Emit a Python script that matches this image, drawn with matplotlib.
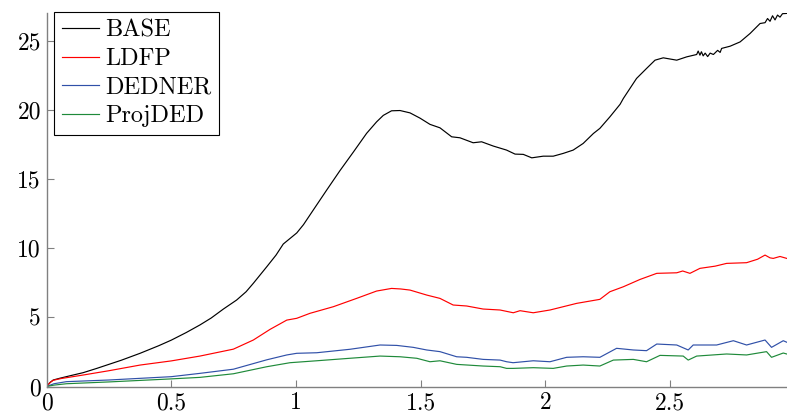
import matplotlib
matplotlib.use("Agg")
import matplotlib.pyplot as plt
from matplotlib.ticker import FuncFormatter

# values
base_x = [0, 0.015, 0.027, 0.054, 0.1, 0.147, 0.2, 0.25, 0.3, 0.375, 0.45, 0.5, 0.56,
          0.615, 0.66, 0.709, 0.762, 0.8, 0.829, 0.883, 0.92, 0.949, 1.003, 1.03, 1.069,
          1.123, 1.176, 1.23, 1.283, 1.323, 1.35, 1.383, 1.417, 1.457, 1.497, 1.537,
          1.577, 1.624, 1.657, 1.71, 1.744, 1.791, 1.844, 1.878, 1.911, 1.945, 1.991,
          2.031, 2.071, 2.111, 2.151, 2.192, 2.218, 2.258, 2.299, 2.312, 2.365, 2.405,
          2.439, 2.472, 2.526, 2.566, 2.606, 2.612, 2.619, 2.625, 2.632, 2.64, 2.65,
          2.66, 2.673, 2.69, 2.70, 2.706, 2.74, 2.78, 2.82, 2.86, 2.88, 2.89, 2.9, 2.91,
          2.92, 2.93, 2.94, 2.95, 2.967]
base_y = [0, 0.3, 0.47, 0.6, 0.8, 1.0, 1.3, 1.6, 1.9, 2.4, 2.95, 3.35, 3.9,
          4.45, 4.95, 5.6, 6.25, 6.85, 7.46, 8.66, 9.5, 10.3, 11.1, 11.7, 12.75,
          14.2, 15.6, 16.95, 18.3, 19.13, 19.6, 19.93, 19.95, 19.78, 19.4, 18.95,
          18.7, 18.05, 17.98, 17.62, 17.69, 17.38, 17.09, 16.8, 16.78, 16.53, 16.65,
          16.65, 16.85, 17.09, 17.57, 18.29, 18.66, 19.49, 20.4, 20.82, 22.27, 22.99,
          23.59, 23.76, 23.59, 23.83, 24.0, 24.25, 23.95, 24.2, 23.9, 24.1, 23.85,
          24.1, 24.0, 24.3, 24.15, 24.44, 24.6, 24.91, 25.52, 26.24, 26.3, 26.6, 26.4,
          26.8, 26.5, 26.85, 26.7, 26.95, 26.97]

ldfp_x = [0, 0.015, 0.027, 0.06, 0.147, 0.25, 0.375, 0.5, 0.615, 0.749, 0.829, 0.896,
          0.963, 1.003, 1.056, 1.15, 1.243, 1.323, 1.383, 1.42, 1.457, 1.524, 1.577,
          1.63, 1.684, 1.75, 1.818, 1.871, 1.898, 1.951, 2.018, 2.125, 2.218, 2.258,
          2.312, 2.379, 2.446, 2.526, 2.55, 2.579, 2.619, 2.68, 2.726, 2.806, 2.85,
          2.88, 2.9, 2.913, 2.94, 2.967]
ldfp_y = [0, 0.3, 0.45, 0.58, 0.83, 1.14, 1.55, 1.85, 2.2, 2.7, 3.36, 4.13,
          4.8, 4.93, 5.29, 5.77, 6.37, 6.9, 7.09, 7.05, 6.97, 6.61, 6.37,
          5.89, 5.82, 5.6, 5.53, 5.33, 5.48, 5.33, 5.53, 6.01, 6.3, 6.85,
          7.21, 7.74, 8.18, 8.22, 8.35, 8.18, 8.54, 8.7, 8.9, 8.95, 9.2,
          9.5, 9.3, 9.26, 9.4, 9.26]

dedner_x = [0, 0.03, 0.08, 0.25, 0.5, 0.615, 0.749, 0.883, 0.963, 1.003, 1.083, 1.216,
            1.337, 1.404, 1.47, 1.524, 1.577, 1.644, 1.684, 1.75, 1.818, 1.844, 1.87,
            1.951, 2.018, 2.085, 2.151, 2.218, 2.285, 2.352, 2.405, 2.446, 2.526, 2.572,
            2.592, 2.686, 2.753, 2.806, 2.88, 2.906, 2.953, 2.967]
dedner_y = [0, 0.2, 0.35, 0.47, 0.71, 0.95, 1.25, 1.93, 2.28, 2.4, 2.44, 2.69,
            3.0, 2.97, 2.83, 2.64, 2.52, 2.15, 2.11, 1.96, 1.91, 1.79, 1.72,
            1.86, 1.79, 2.11, 2.15, 2.11, 2.76, 2.64, 2.59, 3.07, 3.0, 2.64,
            3.0, 3.0, 3.31, 3.0, 3.36, 2.83, 3.31, 3.2]

projded_x = [0, 0.03, 0.08, 0.25, 0.5, 0.615, 0.749, 0.883, 0.976, 1.083, 1.216, 1.337,
             1.417, 1.484, 1.537, 1.577, 1.644, 1.75, 1.818, 1.844, 1.871, 1.951, 2.031,
             2.085, 2.151, 2.218, 2.272, 2.352, 2.405, 2.459, 2.552, 2.572, 2.606, 2.726,
             2.806, 2.886, 2.906, 2.953, 2.967]
projded_y = [0, 0.1, 0.2, 0.33, 0.55, 0.66, 0.92, 1.43, 1.72, 1.86, 2.04, 2.2,
             2.15, 2.04, 1.79, 1.86, 1.6, 1.48, 1.43, 1.31, 1.31, 1.36, 1.31,
             1.48, 1.55, 1.48, 1.91, 1.96, 1.79, 2.25, 2.2, 1.91, 2.2, 2.35,
             2.28, 2.52, 2.11, 2.42, 2.35]

labels = ["BASE", "LDFP", "DEDNER", "ProjDED"]
colors = ["black", "#ff0000", "#3050a8", "#1f8a3a"]

plt.rcParams["font.family"] = "cmr10"
plt.rcParams["mathtext.fontset"] = "cm"
plt.rcParams["axes.formatter.use_mathtext"] = True

fig = plt.figure(figsize=(7.87, 4.19), dpi=100)
ax = fig.add_axes([46.5 / 787, 32.5 / 419, 740.5 / 787, 373.5 / 419])

series = [(base_x, base_y), (ldfp_x, ldfp_y), (dedner_x, dedner_y), (projded_x, projded_y)]
for (xs, ys), lab, col in zip(series, labels, colors):
    ax.plot(xs, ys, color=col, lw=0.85, label=lab)

ax.set_xlim(0, 2.968)
ax.set_ylim(0, 27)
ax.set_xticks([0, 0.5, 1, 1.5, 2, 2.5])
ax.set_yticks([0, 5, 10, 15, 20, 25])
ax.xaxis.set_major_formatter(FuncFormatter(lambda v, p: "%g" % v))
ax.yaxis.set_major_formatter(FuncFormatter(lambda v, p: "%g" % v))

for s in ["top", "right"]:
    ax.spines[s].set_visible(False)
for s in ["left", "bottom"]:
    ax.spines[s].set_color("#808080")
    ax.spines[s].set_linewidth(1.0)
ax.tick_params(direction="in", length=5, width=0.8, color="#808080",
               labelsize=17, pad=4)

leg = ax.legend(loc="upper left", bbox_to_anchor=(7.5 / 740.5, 1.003), fontsize=17.5,
                frameon=True, fancybox=False, edgecolor="black", framealpha=1,
                handlelength=1.52, handletextpad=0.25, borderpad=0.32,
                labelspacing=0.26, borderaxespad=0)
leg.get_frame().set_linewidth(0.8)

fig.savefig("out.png", dpi=100)
